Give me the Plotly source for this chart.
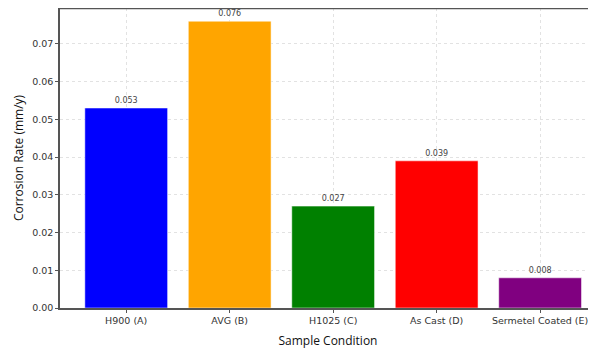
import plotly.graph_objects as go

categories = ["H900 (A)", "AVG (B)", "H1025 (C)", "As Cast (D)", "Sermetel Coated (E)"]
rates = [0.053, 0.076, 0.027, 0.039, 0.008]
colors = ["#0000ff", "#ffa500", "#008000", "#ff0000", "#800080"]
y_ticks = [0.0, 0.01, 0.02, 0.03, 0.04, 0.05, 0.06, 0.07]

fig = go.Figure()
fig.add_trace(go.Bar(
    x=list(range(len(categories))), y=rates,
    marker=dict(color=colors, line=dict(color="rgba(255,255,255,0.5)", width=1)),
    width=0.8,
    text=[f"{v:.3f}" for v in rates], textposition="outside",
    textfont=dict(family="DejaVu Sans", size=8, color="#444"),
    cliponaxis=False,
))

fig.update_layout(
    width=596, height=349,
    margin=dict(l=52, r=8, t=0, b=49, autoexpand=False),
    paper_bgcolor="white", plot_bgcolor="white",
    showlegend=False,
    xaxis=dict(
        tickmode="array", tickvals=list(range(len(categories))), ticktext=categories,
        range=[-0.64, 4.54],
        automargin=False,
        showgrid=True, gridcolor="#e2e2e2", griddash="dot", gridwidth=1,
        showline=True, linecolor="#555", linewidth=1.5, mirror=False,
        ticks="outside", ticklen=3, tickcolor="#555",
        tickfont=dict(family="DejaVu Sans", size=9.5, color="#333"),
        title=dict(text="Sample Condition", font=dict(family="Open Sans", size=12, color="#111"), standoff=11),
        zeroline=False,
    ),
    yaxis=dict(
        range=[0, 0.0795],
        automargin=False,
        tickmode="array", tickvals=y_ticks, ticktext=[f"{v:.2f}" for v in y_ticks],
        showgrid=True, gridcolor="#e2e2e2", griddash="dot", gridwidth=1,
        showline=True, linecolor="#555", linewidth=1.5,
        ticks="outside", ticklen=3, tickcolor="#555",
        tickfont=dict(family="DejaVu Sans", size=9.5, color="#333"),
        title=dict(text="Corrosion Rate (mm/y)", font=dict(family="Open Sans", size=12, color="#111"), standoff=6),
        zeroline=False,
    ),
)
# top border of the axes box
fig.add_shape(type="line", xref="paper", yref="paper", x0=0, x1=1, y0=1, y1=1,
              line=dict(color="#555", width=2.5))

fig.write_html("out.html")
